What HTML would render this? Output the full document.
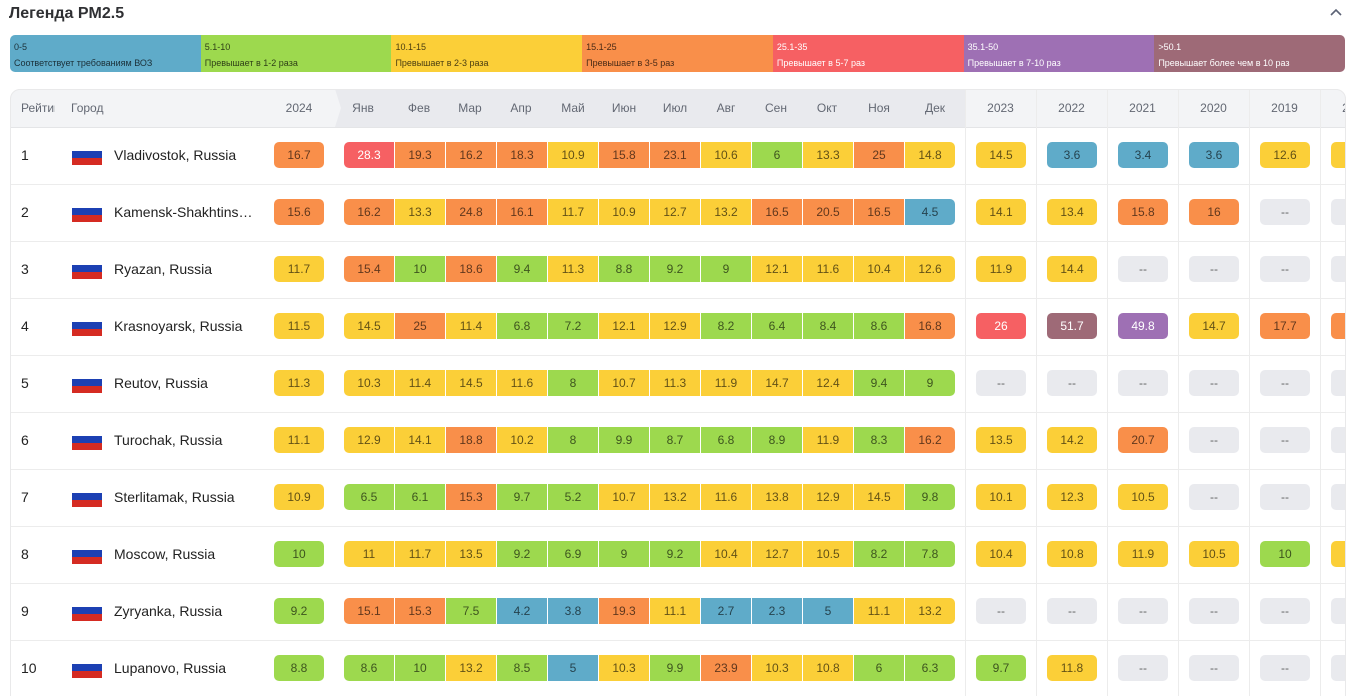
<!DOCTYPE html>
<html>
<head>
<meta charset="utf-8">
<style>
*{margin:0;padding:0;box-sizing:border-box}
html,body{width:1363px;height:696px;overflow:hidden;background:#fff;font-family:"Liberation Sans","Noto Sans CJK SC",sans-serif}
#wrap{position:relative;width:1363px;height:696px;overflow:hidden;background:#fff}
.title{position:absolute;left:9px;top:4px;font-size:16px;font-weight:bold;color:#2f3033;line-height:20px}
.chev{position:absolute;left:1326px;top:4px}
.legend{position:absolute;left:10px;top:35px;width:1335px;height:37px;display:flex;border-radius:5px;overflow:hidden}
.legend div{flex:1;padding:4px 0 0 4px;font-size:9px;line-height:16px;color:rgba(0,0,0,.72);white-space:nowrap;overflow:hidden}
.legend .w{color:#fff}
.B{background:#5fabc9}.G{background:#9dd94e}.Y{background:#fbcf38}.O{background:#f98f4a}
.R{background:#f66063;color:#fff!important}.P{background:#9e70b4;color:#fff!important}.M{background:#9e6a77;color:#fff!important}
.N{background:#e9eaee}
.tbl{position:absolute;left:10px;top:89px;width:1336px;height:620px;border-radius:10px;overflow:hidden;background:#fff}
.bord{position:absolute;left:10px;top:89px;width:1336px;height:620px;border-radius:10px;border:1px solid #e9e9ea;pointer-events:none}
.hd{position:absolute;left:0;top:0;width:100%;height:38px;background:#f3f4f6}
.hdk{position:absolute;left:325px;top:0;width:630px;height:38px;background:#e9eaee}
.ht{position:absolute;top:0;line-height:38px;font-size:12px;color:#636873;white-space:nowrap;text-align:center}
.vl{position:absolute;top:0;width:1px;height:620px;background:#ececec}
.row{position:absolute;left:0;width:100%;height:57px;border-top:1px solid #ececec}
.rk{position:absolute;left:11px;top:0;line-height:55px;font-size:14px;color:#222}
.fl{position:absolute;left:62px;top:16px;width:30px;height:21px;background:linear-gradient(#fff 0,#fff 7px,#1c40b3 7px,#1c40b3 14px,#d52b22 14px)}
.ct{position:absolute;left:104px;top:0;line-height:55px;font-size:14px;color:#222;white-space:nowrap}
.b,.m{position:absolute;top:14px;width:50px;height:26px;line-height:26px;text-align:center;font-size:12px;color:rgba(0,0,0,.62)}
.b{border-radius:5px}
.m.l{border-radius:5px 0 0 5px}.m.r{border-radius:0 5px 5px 0}
.p4{left:264px}
.m0{left:334px}.m1{left:385px}.m2{left:436px}.m3{left:487px}.m4{left:538px}.m5{left:589px}.m6{left:640px}.m7{left:691px}.m8{left:742px}.m9{left:793px}.m10{left:844px}.m11{left:895px}
.y0{left:966px}.y1{left:1037px}.y2{left:1108px}.y3{left:1179px}.y4{left:1250px}.y5{left:1321px}
.N{color:rgba(0,0,0,.6)}
</style>
</head>
<body>
<div id="wrap">
<div class="title">Легенда PM2.5</div>
<svg class="chev" width="20" height="16"><polyline points="5,11 10,6 15,11" fill="none" stroke="#5b6275" stroke-width="1.6"/></svg>

<div class="legend">
<div class="B">0-5<br>Соответствует требованиям ВОЗ</div>
<div class="G">5.1-10<br>Превышает в 1-2 раза</div>
<div class="Y">10.1-15<br>Превышает в 2-3 раза</div>
<div class="O">15.1-25<br>Превышает в 3-5 раз</div>
<div class="R w">25.1-35<br>Превышает в 5-7 раз</div>
<div class="P w">35.1-50<br>Превышает в 7-10 раз</div>
<div class="M w">&gt;50.1<br>Превышает более чем в 10 раз</div>
</div>

<div class="tbl">
<div class="hd"></div>
<div class="hdk"></div>
<svg style="position:absolute;left:320px;top:0" width="14" height="38"><polygon points="0,0 5,0 11,19 5,38 0,38" fill="#f3f4f6"/></svg>
<div class="ht" style="left:11px;width:34px;overflow:hidden;text-align:left">Рейтинг</div>
<div class="ht" style="left:61px">Город</div>
<div class="ht" style="left:264px;width:50px">2024</div>
<div class="ht" style="left:328px;width:50px">Янв</div>
<div class="ht" style="left:384px;width:50px">Фев</div>
<div class="ht" style="left:435px;width:50px">Мар</div>
<div class="ht" style="left:486px;width:50px">Апр</div>
<div class="ht" style="left:538px;width:50px">Май</div>
<div class="ht" style="left:589px;width:50px">Июн</div>
<div class="ht" style="left:640px;width:50px">Июл</div>
<div class="ht" style="left:691px;width:50px">Авг</div>
<div class="ht" style="left:741px;width:50px">Сен</div>
<div class="ht" style="left:792px;width:50px">Окт</div>
<div class="ht" style="left:844px;width:50px">Ноя</div>
<div class="ht" style="left:900px;width:50px">Дек</div>
<div class="ht" style="left:955px;width:71px">2023</div>
<div class="ht" style="left:1026px;width:71px">2022</div>
<div class="ht" style="left:1097px;width:71px">2021</div>
<div class="ht" style="left:1168px;width:71px">2020</div>
<div class="ht" style="left:1239px;width:71px">2019</div>
<div class="ht" style="left:1310px;width:71px">2018</div>

<div class="row" style="top:38px;border-top-color:#e4e5e7">
<div class="rk">1</div><div class="fl"></div><div class="ct">Vladivostok, Russia</div>
<div class="b O p4">16.7</div>
<div class="m R l m0">28.3</div><div class="m O m1">19.3</div><div class="m O m2">16.2</div><div class="m O m3">18.3</div><div class="m Y m4">10.9</div><div class="m O m5">15.8</div><div class="m O m6">23.1</div><div class="m Y m7">10.6</div><div class="m G m8">6</div><div class="m Y m9">13.3</div><div class="m O m10">25</div><div class="m Y r m11">14.8</div>
<div class="b Y y0">14.5</div><div class="b B y1">3.6</div><div class="b B y2">3.4</div><div class="b B y3">3.6</div><div class="b Y y4">12.6</div><div class="b Y y5"></div>
</div>

<div class="row" style="top:95px">
<div class="rk">2</div><div class="fl"></div><div class="ct">Kamensk-Shakhtins…</div>
<div class="b O p4">15.6</div>
<div class="m O l m0">16.2</div><div class="m Y m1">13.3</div><div class="m O m2">24.8</div><div class="m O m3">16.1</div><div class="m Y m4">11.7</div><div class="m Y m5">10.9</div><div class="m Y m6">12.7</div><div class="m Y m7">13.2</div><div class="m O m8">16.5</div><div class="m O m9">20.5</div><div class="m O m10">16.5</div><div class="m B r m11">4.5</div>
<div class="b Y y0">14.1</div><div class="b Y y1">13.4</div><div class="b O y2">15.8</div><div class="b O y3">16</div><div class="b N y4">--</div><div class="b N y5"></div>
</div>

<div class="row" style="top:152px">
<div class="rk">3</div><div class="fl"></div><div class="ct">Ryazan, Russia</div>
<div class="b Y p4">11.7</div>
<div class="m O l m0">15.4</div><div class="m G m1">10</div><div class="m O m2">18.6</div><div class="m G m3">9.4</div><div class="m Y m4">11.3</div><div class="m G m5">8.8</div><div class="m G m6">9.2</div><div class="m G m7">9</div><div class="m Y m8">12.1</div><div class="m Y m9">11.6</div><div class="m Y m10">10.4</div><div class="m Y r m11">12.6</div>
<div class="b Y y0">11.9</div><div class="b Y y1">14.4</div><div class="b N y2">--</div><div class="b N y3">--</div><div class="b N y4">--</div><div class="b N y5"></div>
</div>

<div class="row" style="top:209px">
<div class="rk">4</div><div class="fl"></div><div class="ct">Krasnoyarsk, Russia</div>
<div class="b Y p4">11.5</div>
<div class="m Y l m0">14.5</div><div class="m O m1">25</div><div class="m Y m2">11.4</div><div class="m G m3">6.8</div><div class="m G m4">7.2</div><div class="m Y m5">12.1</div><div class="m Y m6">12.9</div><div class="m G m7">8.2</div><div class="m G m8">6.4</div><div class="m G m9">8.4</div><div class="m G m10">8.6</div><div class="m O r m11">16.8</div>
<div class="b R y0">26</div><div class="b M y1">51.7</div><div class="b P y2">49.8</div><div class="b Y y3">14.7</div><div class="b O y4">17.7</div><div class="b O y5"></div>
</div>

<div class="row" style="top:266px">
<div class="rk">5</div><div class="fl"></div><div class="ct">Reutov, Russia</div>
<div class="b Y p4">11.3</div>
<div class="m Y l m0">10.3</div><div class="m Y m1">11.4</div><div class="m Y m2">14.5</div><div class="m Y m3">11.6</div><div class="m G m4">8</div><div class="m Y m5">10.7</div><div class="m Y m6">11.3</div><div class="m Y m7">11.9</div><div class="m Y m8">14.7</div><div class="m Y m9">12.4</div><div class="m G m10">9.4</div><div class="m G r m11">9</div>
<div class="b N y0">--</div><div class="b N y1">--</div><div class="b N y2">--</div><div class="b N y3">--</div><div class="b N y4">--</div><div class="b N y5"></div>
</div>

<div class="row" style="top:323px">
<div class="rk">6</div><div class="fl"></div><div class="ct">Turochak, Russia</div>
<div class="b Y p4">11.1</div>
<div class="m Y l m0">12.9</div><div class="m Y m1">14.1</div><div class="m O m2">18.8</div><div class="m Y m3">10.2</div><div class="m G m4">8</div><div class="m G m5">9.9</div><div class="m G m6">8.7</div><div class="m G m7">6.8</div><div class="m G m8">8.9</div><div class="m Y m9">11.9</div><div class="m G m10">8.3</div><div class="m O r m11">16.2</div>
<div class="b Y y0">13.5</div><div class="b Y y1">14.2</div><div class="b O y2">20.7</div><div class="b N y3">--</div><div class="b N y4">--</div><div class="b N y5"></div>
</div>

<div class="row" style="top:380px">
<div class="rk">7</div><div class="fl"></div><div class="ct">Sterlitamak, Russia</div>
<div class="b Y p4">10.9</div>
<div class="m G l m0">6.5</div><div class="m G m1">6.1</div><div class="m O m2">15.3</div><div class="m G m3">9.7</div><div class="m G m4">5.2</div><div class="m Y m5">10.7</div><div class="m Y m6">13.2</div><div class="m Y m7">11.6</div><div class="m Y m8">13.8</div><div class="m Y m9">12.9</div><div class="m Y m10">14.5</div><div class="m G r m11">9.8</div>
<div class="b Y y0">10.1</div><div class="b Y y1">12.3</div><div class="b Y y2">10.5</div><div class="b N y3">--</div><div class="b N y4">--</div><div class="b N y5"></div>
</div>

<div class="row" style="top:437px">
<div class="rk">8</div><div class="fl"></div><div class="ct">Moscow, Russia</div>
<div class="b G p4">10</div>
<div class="m Y l m0">11</div><div class="m Y m1">11.7</div><div class="m Y m2">13.5</div><div class="m G m3">9.2</div><div class="m G m4">6.9</div><div class="m G m5">9</div><div class="m G m6">9.2</div><div class="m Y m7">10.4</div><div class="m Y m8">12.7</div><div class="m Y m9">10.5</div><div class="m G m10">8.2</div><div class="m G r m11">7.8</div>
<div class="b Y y0">10.4</div><div class="b Y y1">10.8</div><div class="b Y y2">11.9</div><div class="b Y y3">10.5</div><div class="b G y4">10</div><div class="b Y y5"></div>
</div>

<div class="row" style="top:494px">
<div class="rk">9</div><div class="fl"></div><div class="ct">Zyryanka, Russia</div>
<div class="b G p4">9.2</div>
<div class="m O l m0">15.1</div><div class="m O m1">15.3</div><div class="m G m2">7.5</div><div class="m B m3">4.2</div><div class="m B m4">3.8</div><div class="m O m5">19.3</div><div class="m Y m6">11.1</div><div class="m B m7">2.7</div><div class="m B m8">2.3</div><div class="m B m9">5</div><div class="m Y m10">11.1</div><div class="m Y r m11">13.2</div>
<div class="b N y0">--</div><div class="b N y1">--</div><div class="b N y2">--</div><div class="b N y3">--</div><div class="b N y4">--</div><div class="b N y5"></div>
</div>

<div class="row" style="top:551px">
<div class="rk">10</div><div class="fl"></div><div class="ct">Lupanovo, Russia</div>
<div class="b G p4">8.8</div>
<div class="m G l m0">8.6</div><div class="m G m1">10</div><div class="m Y m2">13.2</div><div class="m G m3">8.5</div><div class="m B m4">5</div><div class="m Y m5">10.3</div><div class="m G m6">9.9</div><div class="m O m7">23.9</div><div class="m Y m8">10.3</div><div class="m Y m9">10.8</div><div class="m G m10">6</div><div class="m G r m11">6.3</div>
<div class="b G y0">9.7</div><div class="b Y y1">11.8</div><div class="b N y2">--</div><div class="b N y3">--</div><div class="b N y4">--</div><div class="b N y5"></div>
</div>

<div class="vl" style="left:955px"></div>
<div class="vl" style="left:1026px"></div>
<div class="vl" style="left:1097px"></div>
<div class="vl" style="left:1168px"></div>
<div class="vl" style="left:1239px"></div>
<div class="vl" style="left:1310px"></div>
</div>
<div class="bord"></div>
</div>
</body>
</html>
